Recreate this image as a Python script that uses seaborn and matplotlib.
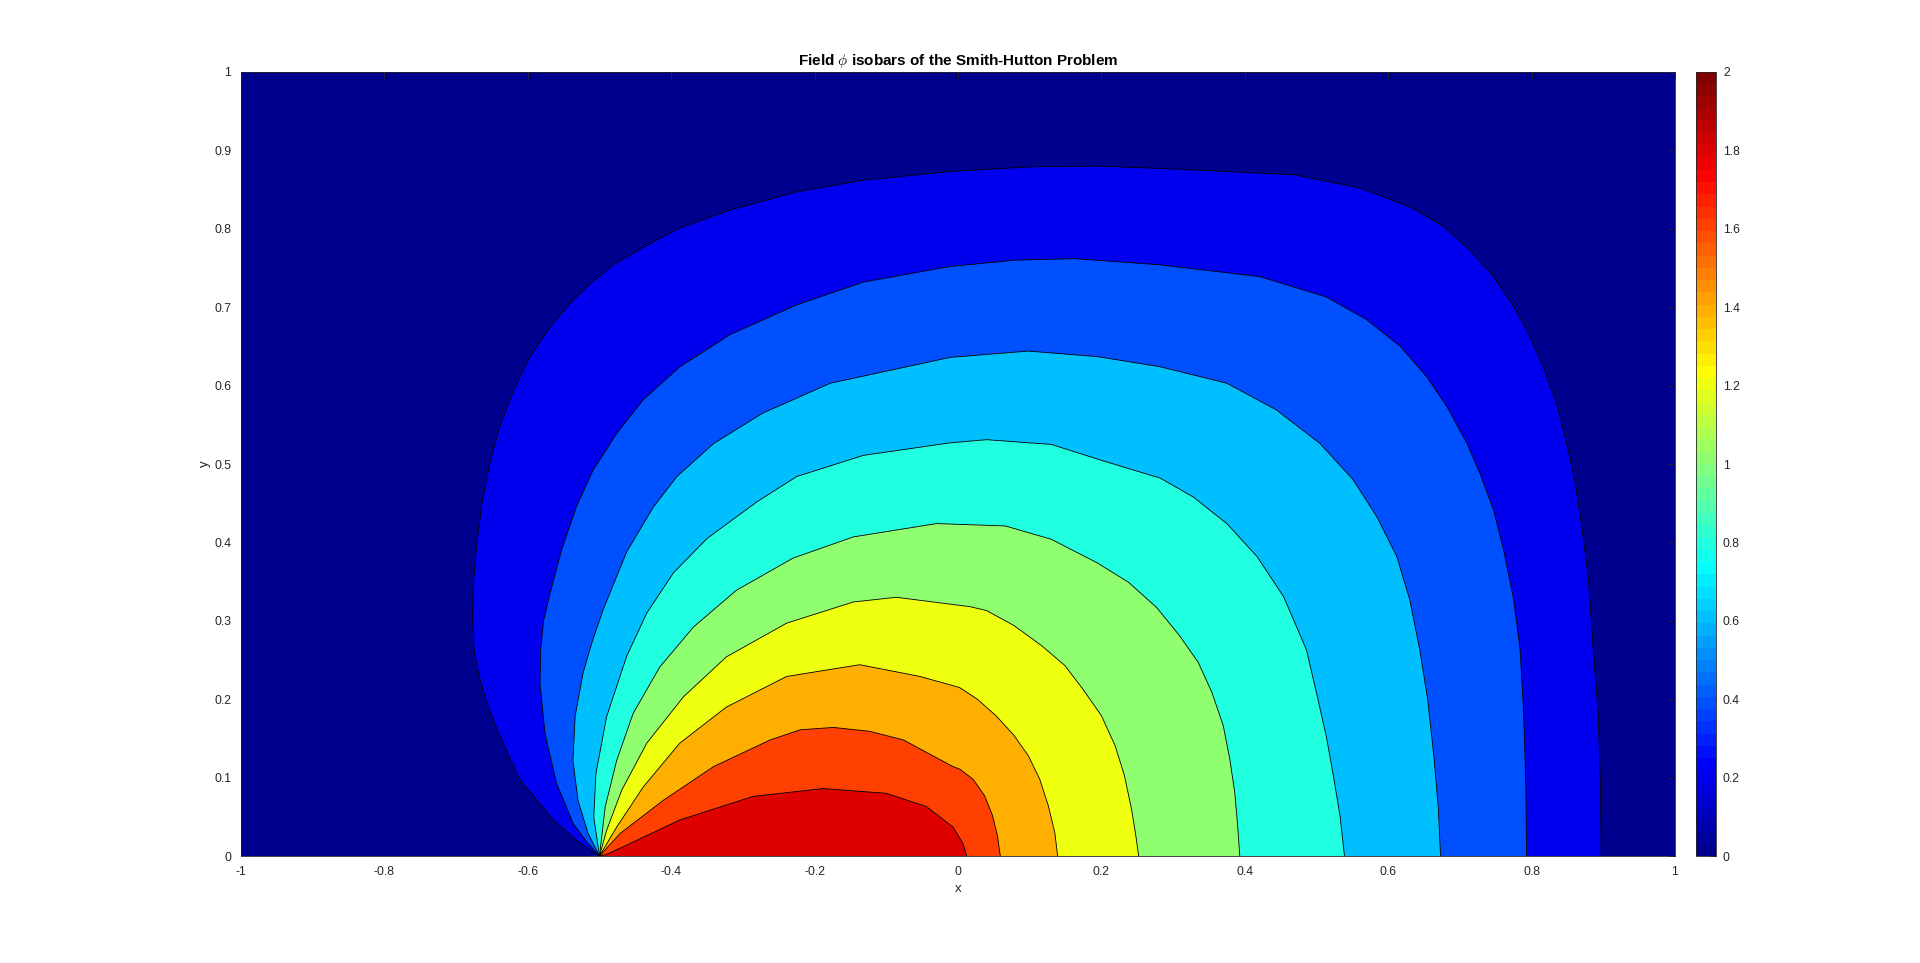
import numpy as np
import pandas as pd
import matplotlib
matplotlib.use('Agg')
import matplotlib.pyplot as plt
from matplotlib.colors import ListedColormap
import seaborn as sns

# contour levels of phi (filled band colour = lower level)
levels = [0.2, 0.4, 0.6, 0.8, 1.0, 1.2, 1.4, 1.6, 1.8]

# isobars, from the inlet point (-0.5, 0) round to the outlet
c02_x = [-0.5, -0.527, -0.564, -0.611, -0.640, -0.657, -0.668, -0.675, -0.677, -0.676, -0.671, -0.664,
         -0.653, -0.639, -0.620, -0.597, -0.569, -0.541, -0.513, -0.481, -0.434, -0.388, -0.318, -0.225,
         -0.132, -0.011, 0.1, 0.194, 0.282, 0.468, 0.561, 0.630, 0.677, 0.714, 0.747, 0.775, 0.798, 0.816,
         0.835, 0.849, 0.861, 0.870, 0.879, 0.886, 0.893, 0.896, 0.897]
c02_y = [0.0, 0.016, 0.046, 0.097, 0.155, 0.195, 0.230, 0.263, 0.305, 0.348, 0.399, 0.450,
         0.501, 0.548, 0.594, 0.637, 0.675, 0.705, 0.730, 0.754, 0.779, 0.801, 0.824, 0.847,
         0.862, 0.873, 0.879, 0.880, 0.877, 0.869, 0.852, 0.828, 0.803, 0.773, 0.739, 0.701, 0.662, 0.624,
         0.577, 0.526, 0.475, 0.420, 0.356, 0.263, 0.180, 0.090, 0.0]

c04_x = [-0.5, -0.518, -0.537, -0.560, -0.576, -0.583, -0.582, -0.578, -0.569, -0.553, -0.532, -0.509,
         -0.476, -0.439, -0.388, -0.318, -0.225, -0.132, -0.011, 0.08, 0.162, 0.282, 0.421, 0.514, 0.570,
         0.617, 0.654, 0.682, 0.710, 0.728, 0.747, 0.761, 0.775, 0.784, 0.789, 0.792, 0.793]
c04_y = [0.0, 0.018, 0.042, 0.093, 0.156, 0.220, 0.263, 0.300, 0.335, 0.390, 0.446, 0.492,
         0.539, 0.582, 0.624, 0.665, 0.703, 0.732, 0.752, 0.760, 0.762, 0.754, 0.739, 0.713, 0.684,
         0.650, 0.611, 0.573, 0.526, 0.488, 0.441, 0.390, 0.327, 0.263, 0.180, 0.090, 0.0]

c06_x = [-0.5, -0.516, -0.530, -0.537, -0.534, -0.523, -0.511, -0.495, -0.462, -0.425, -0.392, -0.341,
         -0.272, -0.178, -0.011, 0.098, 0.194, 0.282, 0.375, 0.444, 0.505, 0.551, 0.584, 0.612, 0.630,
         0.644, 0.655, 0.664, 0.670, 0.673]
c06_y = [0.0, 0.029, 0.071, 0.122, 0.178, 0.233, 0.271, 0.314, 0.388, 0.445, 0.484, 0.526,
         0.565, 0.603, 0.636, 0.644, 0.637, 0.624, 0.603, 0.569, 0.526, 0.480, 0.433, 0.382, 0.327,
         0.263, 0.200, 0.124, 0.060, 0.0]

c08_x = [-0.5, -0.508, -0.505, -0.490, -0.462, -0.434, -0.397, -0.350, -0.280, -0.225, -0.132, -0.011,
         0.04, 0.13, 0.206, 0.282, 0.328, 0.375, 0.417, 0.454, 0.486, 0.502, 0.514, 0.524, 0.533, 0.539]
c08_y = [0.0, 0.050, 0.105, 0.178, 0.255, 0.310, 0.361, 0.405, 0.452, 0.484, 0.511, 0.527,
         0.531, 0.525, 0.503, 0.482, 0.458, 0.424, 0.382, 0.331, 0.263, 0.200, 0.151, 0.100, 0.050, 0.0]

c10_x = [-0.5, -0.492, -0.476, -0.453, -0.416, -0.369, -0.309, -0.230, -0.146, -0.030, 0.066, 0.13,
         0.194, 0.238, 0.277, 0.309, 0.335, 0.354, 0.370, 0.379, 0.386, 0.390, 0.393]
c10_y = [0.0, 0.063, 0.122, 0.182, 0.241, 0.292, 0.339, 0.380, 0.407, 0.424, 0.421, 0.404,
         0.374, 0.349, 0.317, 0.281, 0.247, 0.209, 0.166, 0.124, 0.081, 0.039, 0.0]

c12_x = [-0.5, -0.490, -0.469, -0.434, -0.383, -0.323, -0.239, -0.146, -0.086, 0.017, 0.040, 0.078,
         0.117, 0.149, 0.174, 0.2, 0.219, 0.232, 0.242, 0.248, 0.252]
c12_y = [0.0, 0.033, 0.084, 0.144, 0.203, 0.254, 0.297, 0.324, 0.330, 0.318, 0.313, 0.294,
         0.268, 0.243, 0.213, 0.179, 0.141, 0.103, 0.060, 0.026, 0.0]

c14_x = [-0.5, -0.476, -0.439, -0.388, -0.323, -0.239, -0.137, -0.053, 0.002, 0.027, 0.053, 0.078,
         0.098, 0.114, 0.126, 0.135, 0.139]
c14_y = [0.0, 0.037, 0.088, 0.144, 0.190, 0.229, 0.244, 0.229, 0.215, 0.200, 0.179, 0.154,
         0.128, 0.098, 0.064, 0.030, 0.0]

c16_x = [-0.5, -0.471, -0.411, -0.341, -0.262, -0.220, -0.174, -0.123, -0.076, -0.007, 0.002, 0.021,
         0.037, 0.048, 0.055, 0.059]
c16_y = [0.0, 0.029, 0.071, 0.114, 0.148, 0.161, 0.164, 0.159, 0.148, 0.114, 0.111, 0.098,
         0.077, 0.052, 0.026, 0.0]

c18_x = [-0.5, -0.49, -0.448, -0.388, -0.286, -0.188, -0.100, -0.044, -0.007, 0.007, 0.012]
c18_y = [0.0, 0.002, 0.020, 0.046, 0.076, 0.086, 0.080, 0.063, 0.037, 0.016, 0.0]

x_ticks = [-1, -0.8, -0.6, -0.4, -0.2, 0, 0.2, 0.4, 0.6, 0.8, 1]
x_tick_labels = ['-1', '-0.8', '-0.6', '-0.4', '-0.2', '0', '0.2', '0.4', '0.6', '0.8', '1']
y_ticks = [0, 0.1, 0.2, 0.3, 0.4, 0.5, 0.6, 0.7, 0.8, 0.9, 1]
y_tick_labels = ['0', '0.1', '0.2', '0.3', '0.4', '0.5', '0.6', '0.7', '0.8', '0.9', '1']
cbar_ticks = [0, 0.2, 0.4, 0.6, 0.8, 1, 1.2, 1.4, 1.6, 1.8, 2]
cbar_tick_labels = ['0', '0.2', '0.4', '0.6', '0.8', '1', '1.2', '1.4', '1.6', '1.8', '2']

contours = [
    (0.2, c02_x, c02_y), (0.4, c04_x, c04_y), (0.6, c06_x, c06_y),
    (0.8, c08_x, c08_y), (1.0, c10_x, c10_y), (1.2, c12_x, c12_y),
    (1.4, c14_x, c14_y), (1.6, c16_x, c16_y), (1.8, c18_x, c18_y),
]
df = pd.concat([pd.DataFrame({'level': lev, 'x': cx, 'y': cy}) for lev, cx, cy in contours],
               ignore_index=True)


def matlab_jet(m=64):
    # same construction as MATLAB's jet(m)
    n = int(np.ceil(m / 4))
    u = np.concatenate([np.arange(1, n + 1) / n, np.ones(n - 1), np.arange(n, 0, -1) / n])
    g = int(np.ceil(n / 2)) - (1 if m % 4 == 1 else 0) + np.arange(1, len(u) + 1)
    r = g + n
    b = g - n
    J = np.zeros((m, 3))
    J[r[r <= m] - 1, 0] = u[r <= m]
    J[g[g <= m] - 1, 1] = u[g <= m]
    J[b[b >= 1] - 1, 2] = u[b >= 1]
    return ListedColormap(J)


sns.set_theme(style='white')
plt.rcParams['font.family'] = ['Liberation Sans', 'DejaVu Sans']
plt.rcParams['mathtext.fontset'] = 'cm'

dark = (0.15, 0.15, 0.15)
cmap = matlab_jet(64)
norm = plt.Normalize(0, 2)


def band_color(lev):
    idx = min(int(norm(lev) * cmap.N + 1e-9), cmap.N - 1)
    return cmap(idx)


fig = plt.figure(figsize=(19.2, 9.63), dpi=100)
fig.patch.set_facecolor('white')
ax = fig.add_axes([241 / 1920, 107 / 963, 1434 / 1920, 784 / 963])

# outermost band (phi < 0.2) is the axes background, inner bands painted on top
ax.set_facecolor(band_color(0))
for lev, cx, cy in contours:
    ax.fill(cx, cy, color=band_color(lev), lw=0, zorder=1)

sns.lineplot(data=df, x='x', y='y', units='level', estimator=None, sort=False,
             color='black', lw=0.6, ax=ax, legend=False, zorder=2)

ax.set_xlim(-1, 1)
ax.set_ylim(0, 1)
ax.set_xticks(x_ticks)
ax.set_xticklabels(x_tick_labels)
ax.set_yticks(y_ticks)
ax.set_yticklabels(y_tick_labels)
ax.tick_params(direction='in', length=5, width=0.6, colors=dark, labelsize=8.8,
               top=True, right=True, pad=7)
for s in ax.spines.values():
    s.set_color(dark)
    s.set_linewidth(0.6)
ax.set_xlabel('x', fontsize=9.5, color=dark, labelpad=4)
ax.set_ylabel('y', fontsize=9.5, color=dark, labelpad=2)
ax.set_title(r'Field $\phi$ isobars of the Smith-Hutton Problem', fontsize=11,
             fontweight='bold', color='black', pad=5)

cax = fig.add_axes([1696 / 1920, 107 / 963, 20 / 1920, 784 / 963])
sm = matplotlib.cm.ScalarMappable(norm=norm, cmap=cmap)
cb = fig.colorbar(sm, cax=cax)
cb.set_ticks(cbar_ticks)
cb.set_ticklabels(cbar_tick_labels)
cax.tick_params(direction='in', length=4, width=0.6, colors=dark, labelsize=8.8, pad=5)
cb.outline.set_edgecolor(dark)
cb.outline.set_linewidth(0.6)

plt.savefig('out.png', dpi=100)
